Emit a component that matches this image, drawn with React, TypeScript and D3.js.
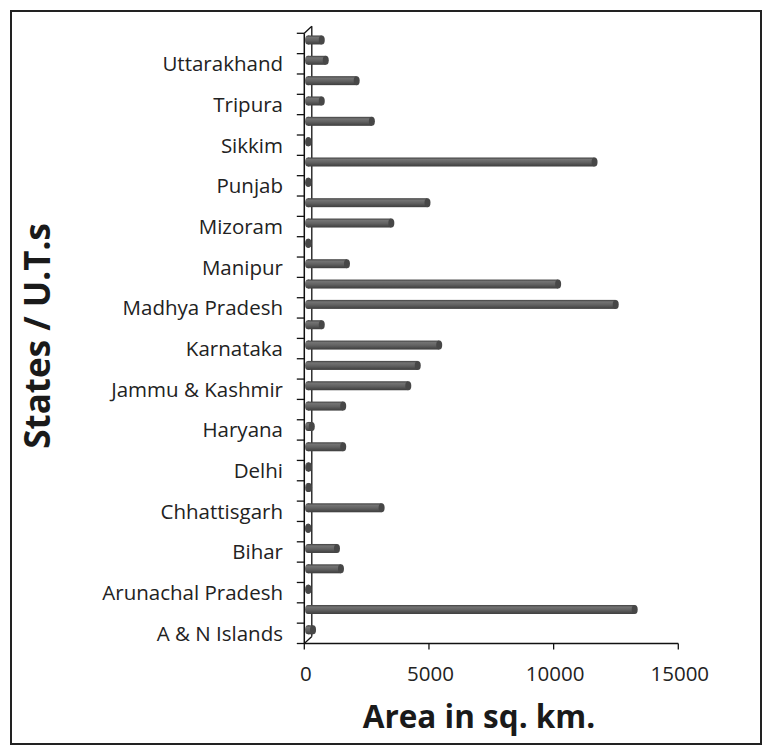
import { useMemo } from "react";
import * as d3 from "d3";

// states / UTs, bottom to top as in the chart
const STATES = [
  "A & N Islands",
  "Andhra Pradesh",
  "Arunachal Pradesh",
  "Assam",
  "Bihar",
  "Chandigarh",
  "Chhattisgarh",
  "Dadra & Nagar Haveli",
  "Delhi",
  "Gujarat",
  "Haryana",
  "Himachal Pradesh",
  "Jammu & Kashmir",
  "Jharkhand",
  "Karnataka",
  "Kerala",
  "Madhya Pradesh",
  "Maharashtra",
  "Manipur",
  "Meghalaya",
  "Mizoram",
  "Orissa",
  "Punjab",
  "Rajasthan",
  "Sikkim",
  "Tamil Nadu",
  "Tripura",
  "Uttar Pradesh",
  "Uttarakhand",
  "West Bengal",
];

// area in sq. km.
const AREA = [
  200, 13100, 20, 1320, 1160, 10, 2950, 40, 40, 1410, 150, 1410, 4020, 4400,
  5260, 550, 12340, 10030, 1560, 20, 3340, 4790, 20, 11490, 20, 2560, 550,
  1950, 710, 550,
];

const X_TICKS = [0, 5000, 10000, 15000];

const WIDTH = 772;
const HEIGHT = 752;
const FRONT = { left: 304.3, right: 678.3, top: 33.3, bottom: 643.5 };
const DEPTH = { dx: 7.5, dy: -7 };
const BAR_H = 9;
const FONT = "'Open Sans', 'DejaVu Sans', sans-serif";

type Row = { state: string; area: number; i: number };

export default function App() {
  const rows: Row[] = STATES.map((state, i) => ({ state, area: AREA[i], i }));

  const xScale = useMemo(
    () => d3.scaleLinear().domain([0, 15000]).range([FRONT.left, FRONT.right]),
    []
  );
  const yScale = useMemo(
    () =>
      d3
        .scaleBand<string>()
        .domain(STATES)
        .range([FRONT.bottom, FRONT.top])
        .padding(0),
    []
  );

  const bw = yScale.bandwidth();
  // tick marks sit on the band boundaries
  const boundaries = d3.range(STATES.length + 1).map((k) => FRONT.bottom - k * bw);

  return (
    <div style={{ position: "absolute", left: 0, top: 0 }}>
      <svg width={WIDTH} height={HEIGHT} style={{ display: "block", background: "#fff" }}>
        <defs>
          <linearGradient id="cyl" x1="0" y1="0" x2="0" y2="1">
            <stop offset="0%" stopColor="#404040" />
            <stop offset="22%" stopColor="#737373" />
            <stop offset="55%" stopColor="#616161" />
            <stop offset="100%" stopColor="#3d3d3d" />
          </linearGradient>
        </defs>

        {/* outer frame */}
        <rect x={11} y={11} width={750} height={733} fill="none" stroke="#222" strokeWidth={2} />

        {/* back wall edge + depth connectors */}
        <line
          x1={FRONT.left + DEPTH.dx}
          x2={FRONT.left + DEPTH.dx}
          y1={FRONT.top + DEPTH.dy}
          y2={FRONT.bottom + DEPTH.dy}
          stroke="#111"
          strokeWidth={1.3}
        />
        <line
          x1={FRONT.left}
          y1={FRONT.top}
          x2={FRONT.left + DEPTH.dx}
          y2={FRONT.top + DEPTH.dy}
          stroke="#111"
          strokeWidth={1.3}
        />
        <line
          x1={FRONT.left}
          y1={FRONT.bottom}
          x2={FRONT.left + DEPTH.dx}
          y2={FRONT.bottom + DEPTH.dy}
          stroke="#111"
          strokeWidth={1.3}
        />

        {/* bars (cylinders) */}
        {rows.map((d) => {
          const yc = (yScale(d.state) ?? 0) + bw / 2 + DEPTH.dy / 2;
          const x0 = xScale(0) + DEPTH.dx / 2;
          const x1 = xScale(d.area) + DEPTH.dx / 2;
          return (
            <g key={d.state}>
              <ellipse cx={x0} cy={yc} rx={3} ry={BAR_H / 2} fill="url(#cyl)" />
              <rect x={x0} y={yc - BAR_H / 2} width={Math.max(0, x1 - x0)} height={BAR_H} fill="url(#cyl)" />
              <ellipse cx={x1} cy={yc} rx={3} ry={BAR_H / 2} fill="#474747" />
            </g>
          );
        })}

        {/* y axis */}
        <line x1={FRONT.left} x2={FRONT.left} y1={FRONT.top} y2={FRONT.bottom} stroke="#111" strokeWidth={1.5} />
        {boundaries.map((y, k) => (
          <line key={k} x1={FRONT.left - 7.5} x2={FRONT.left} y1={y} y2={y} stroke="#111" strokeWidth={1.3} />
        ))}
        {rows
          .filter((d) => d.i % 2 === 0)
          .map((d) => (
            <text
              key={d.state}
              x={283}
              y={(yScale(d.state) ?? 0) + bw / 2 + 7.5}
              textAnchor="end"
              fontFamily={FONT}
              fontSize={20.5}
              fill="#222"
            >
              {d.state}
            </text>
          ))}

        {/* x axis */}
        <line x1={FRONT.left} x2={FRONT.right} y1={FRONT.bottom} y2={FRONT.bottom} stroke="#111" strokeWidth={1.5} />
        {X_TICKS.map((t) => (
          <g key={t}>
            <line x1={xScale(t)} x2={xScale(t)} y1={FRONT.bottom} y2={FRONT.bottom + 6} stroke="#111" strokeWidth={1.3} />
            <text
              x={xScale(t) + 1.5}
              y={681}
              textAnchor="middle"
              fontFamily={FONT}
              fontSize={20.5}
              fill="#222"
            >
              {t}
            </text>
          </g>
        ))}

        {/* axis titles */}
        <text
          x={479}
          y={728}
          textAnchor="middle"
          fontFamily={FONT}
          fontWeight="bold"
          fontSize={31.5}
          fill="#1a1a1a"
        >
          Area in sq. km.
        </text>
        <text
          transform="translate(50,336) rotate(-90)"
          textAnchor="middle"
          fontFamily={FONT}
          fontWeight="bold"
          fontSize={35}
          fill="#1a1a1a"
        >
          States / U.T.s
        </text>
      </svg>
    </div>
  );
}
